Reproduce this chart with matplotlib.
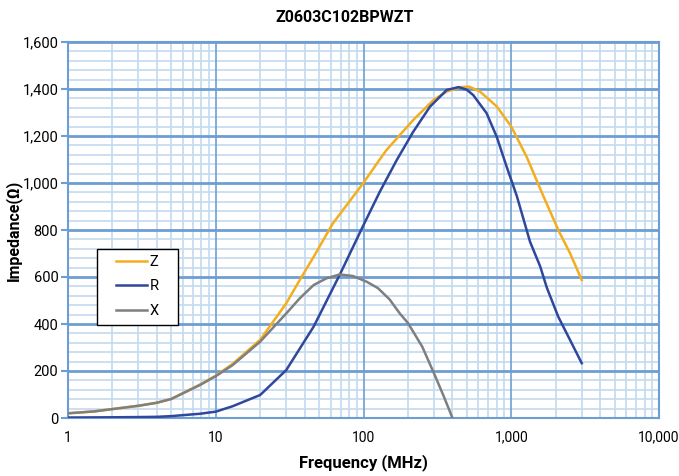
import numpy as np
import matplotlib
matplotlib.use('Agg')
import matplotlib.pyplot as plt
from matplotlib.patches import Rectangle
from matplotlib.ticker import FixedLocator, FuncFormatter, NullFormatter

plt.rcParams['font.family'] = ['Roboto', 'DejaVu Sans']

title = 'Z0603C102BPWZT'

# Z curve (MHz, ohm)
freq_z = [1, 1.5, 2, 3, 4, 5, 7.8, 10, 13, 20, 30, 37, 46, 62, 80, 100, 129, 143, 217,
          300, 366, 450, 520, 615, 800, 1000, 1270, 1700, 2100, 2500, 3000]
imp_z = [20, 28, 38, 52, 65, 81, 142, 180, 230, 333, 488, 587, 686, 828, 920, 1001,
         1101, 1140, 1268, 1355, 1389, 1408, 1410, 1389, 1325, 1240, 1112, 925, 795,
         701, 587]

# R curve
freq_r = [1, 2, 3, 4, 5, 7.8, 10, 13, 20, 30, 46, 69, 100, 129, 168, 217, 282, 366,
          440, 500, 553, 681, 797, 931, 1090, 1340, 1570, 1740, 2080, 2500, 3000]
imp_r = [2, 3, 4, 5, 8, 18, 27, 50, 98, 204, 389, 609, 821, 963, 1098, 1218, 1325,
         1396, 1408, 1397, 1374, 1297, 1197, 1069, 945, 750, 645, 555, 431, 332, 233]

# X curve
freq_x = [1, 1.5, 2, 3, 4, 5, 7.8, 10, 13, 20, 30, 37, 46, 56, 69, 85, 105, 125, 150,
          176, 200, 250, 300, 350, 400]
imp_x = [20, 28, 38, 52, 65, 81, 140, 178, 225, 325, 445, 509, 566, 594, 611, 604,
         580, 553, 505, 445, 404, 303, 190, 91, 0]

x_ticks = [1, 10, 100, 1000, 10000]
y_ticks = np.arange(0, 1601, 200)

major_c = '#6d9ed3'
minor_c = '#c3daf0'

fig = plt.figure(figsize=(6.79, 4.76), dpi=100)
ax = fig.add_axes([68 / 679, 58 / 476, 591 / 679, 376 / 476])

ax.set_xscale('log')
ax.set_xlim(1, 10000)
ax.set_ylim(0, 1600)

# grid: minor first, then major on top
for d in x_ticks[:-1]:
    for m in range(2, 10):
        ax.axvline(d * m, color=minor_c, lw=1.2, zorder=0.5)
for v in np.arange(0, 1601, 40):
    if v % 200:
        ax.axhline(v, color=minor_c, lw=1.2, zorder=0.5)
for d in x_ticks:
    ax.axvline(d, color=major_c, lw=1.2, zorder=0.8)
for v in y_ticks:
    ax.axhline(v, color=major_c, lw=2.0, zorder=0.8)

ax.plot(freq_z, imp_z, color='#f4ae1d', lw=1.8, label='Z', zorder=3)
ax.plot(freq_r, imp_r, color='#2f479c', lw=1.8, label='R', zorder=3)
ax.plot(freq_x, imp_x, color='#7f7f7f', lw=1.8, label='X', zorder=3)

ax.xaxis.set_major_locator(FixedLocator(x_ticks))
ax.xaxis.set_minor_locator(FixedLocator([]))
ax.xaxis.set_minor_formatter(NullFormatter())
ax.xaxis.set_major_formatter(FuncFormatter(lambda v, p: f'{v:,.0f}'))
ax.yaxis.set_major_locator(FixedLocator(y_ticks))
ax.yaxis.set_major_formatter(FuncFormatter(lambda v, p: f'{v:,.0f}'))

for s in ax.spines.values():
    s.set_color(major_c)
    s.set_linewidth(1.5)
ax.tick_params(axis='y', length=5, color=major_c, width=1.5, labelsize=10.5, pad=2)
ax.tick_params(axis='x', length=0, labelsize=10, pad=9)

ax.set_xlabel('Frequency (MHz)', fontsize=12, fontweight='bold')
ax.set_ylabel('Impedance(Ω)', fontsize=11.5, fontweight='bold')
ax.xaxis.set_label_coords((363 - 68) / 591, -(454 - 418) / 376)
ax.yaxis.set_label_coords((22 - 68) / 591, 0.5)
fig.text(345 / 679, 1 - 17 / 476, title, fontsize=11.5, fontweight='bold',
         ha='center', va='center')

leg = ax.legend(loc='upper left', bbox_to_anchor=((116 - 68) / 591, (418 - 255) / 376),
                fontsize=10.5, frameon=False, handlelength=2.1, handletextpad=0.2,
                borderpad=0, borderaxespad=0, labelspacing=0.72)
ax.add_patch(Rectangle(((97 - 68) / 591, (418 - 325) / 376), 81 / 591, 76 / 376,
                       transform=ax.transAxes, facecolor='white', edgecolor='black',
                       lw=1.0, zorder=4))
leg.set_zorder(5)

plt.savefig('out.png', dpi=100)
plt.close()
